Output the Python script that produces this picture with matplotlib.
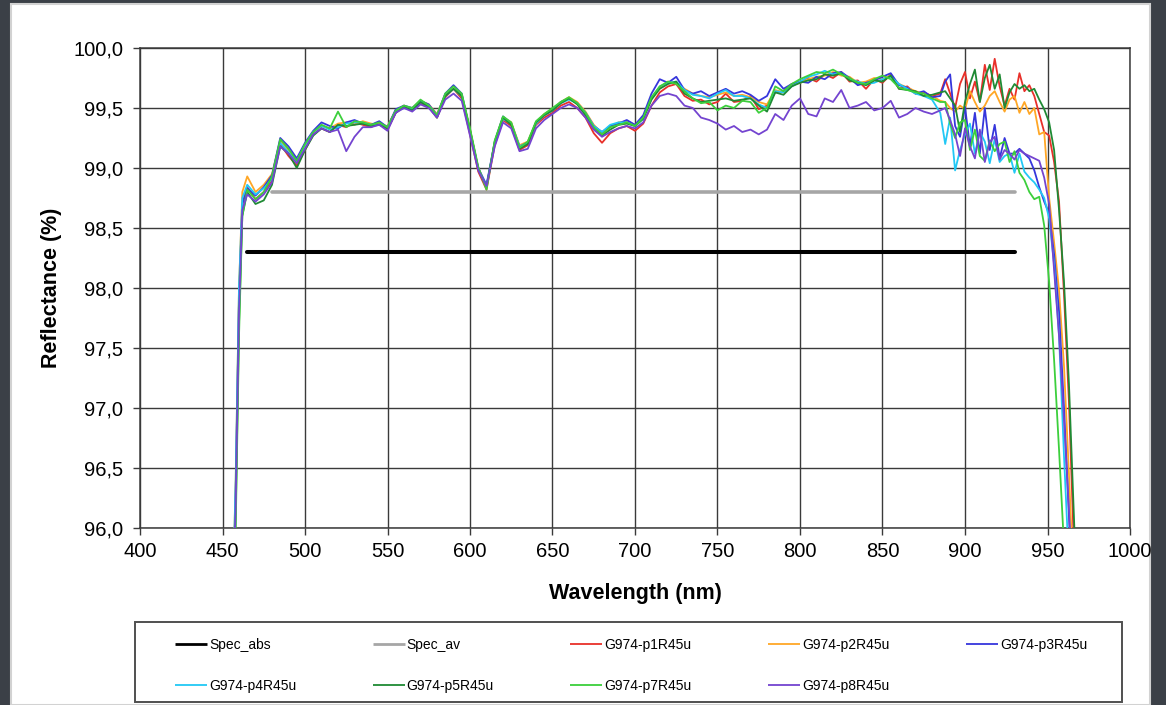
import numpy as np
import matplotlib
matplotlib.use("Agg")
import matplotlib.pyplot as plt
from matplotlib.patches import Rectangle
from matplotlib.ticker import FuncFormatter, MultipleLocator

plt.rcParams['font.family'] = ['Liberation Sans', 'DejaVu Sans']

# Sample wavelengths (nm): fine steps on the rising edge, 5 nm in the band, 3 nm in the noisy tail
wavelength = np.concatenate([[456, 458, 460, 462],
                             np.arange(465, 886, 5),
                             np.arange(888, 970, 3)])

# Specification limits
spec_abs_wl = [465, 930]
spec_abs_val = [98.3, 98.3]
spec_av_wl = [480, 930]
spec_av_val = [98.8, 98.8]

# Measured reflectance (%) per sample
p1 = [95.2, 96.3, 97.9, 98.7,
      98.84, 98.74, 98.80, 98.90, 99.20, 99.10, 99.02, 99.15, 99.28, 99.33,
      99.30, 99.36, 99.34, 99.38, 99.36, 99.34, 99.38, 99.32, 99.46, 99.52,
      99.48, 99.54, 99.51, 99.42, 99.59, 99.66, 99.58, 99.28, 98.97, 98.82,
      99.19, 99.40, 99.35, 99.15, 99.19, 99.36, 99.42, 99.46, 99.52, 99.55,
      99.50, 99.42, 99.29, 99.21, 99.29, 99.33, 99.35, 99.31, 99.37, 99.52,
      99.63, 99.68, 99.70, 99.60, 99.56, 99.57, 99.53, 99.55, 99.62, 99.55,
      99.56, 99.60, 99.49, 99.52, 99.63, 99.64, 99.70, 99.72, 99.75, 99.72,
      99.78, 99.75, 99.80, 99.72, 99.73, 99.66, 99.74, 99.71, 99.78, 99.66,
      99.68, 99.62, 99.63, 99.60, 99.62,
      99.74, 99.62, 99.50, 99.70, 99.80, 99.58, 99.72, 99.55, 99.86, 99.65,
      99.91, 99.68, 99.52, 99.66, 99.57, 99.79, 99.64, 99.69, 99.60, 99.45,
      99.30, 99.27, 99.05, 98.72, 97.95, 97.05, 95.85, 94.70]

p2 = [95.3, 96.4, 98.0, 98.8,
      98.93, 98.80, 98.86, 98.95, 99.23, 99.15, 99.07, 99.18, 99.30, 99.35,
      99.33, 99.37, 99.38, 99.36, 99.39, 99.37, 99.36, 99.35, 99.48, 99.50,
      99.50, 99.56, 99.53, 99.45, 99.61, 99.66, 99.61, 99.32, 99.00, 98.84,
      99.21, 99.42, 99.38, 99.19, 99.22, 99.38, 99.45, 99.49, 99.55, 99.59,
      99.55, 99.47, 99.36, 99.29, 99.34, 99.38, 99.39, 99.36, 99.42, 99.58,
      99.67, 99.72, 99.71, 99.66, 99.62, 99.60, 99.59, 99.61, 99.63, 99.60,
      99.61, 99.59, 99.55, 99.53, 99.65, 99.63, 99.69, 99.71, 99.74, 99.76,
      99.77, 99.80, 99.77, 99.76, 99.71, 99.72, 99.75, 99.74, 99.77, 99.70,
      99.67, 99.64, 99.62, 99.60, 99.56,
      99.55, 99.50, 99.47, 99.52, 99.49, 99.64, 99.55, 99.47, 99.52, 99.60,
      99.64, 99.55, 99.47, 99.57, 99.60, 99.46, 99.55, 99.45, 99.50, 99.28,
      99.30, 98.75, 98.38, 97.98, 97.35, 96.45, 95.50, 94.50]

p3 = [95.2, 96.3, 97.9, 98.7,
      98.83, 98.77, 98.84, 98.94, 99.25, 99.18, 99.08, 99.21, 99.31, 99.38,
      99.35, 99.33, 99.38, 99.40, 99.37, 99.36, 99.39, 99.34, 99.49, 99.52,
      99.50, 99.56, 99.53, 99.44, 99.62, 99.69, 99.62, 99.31, 99.00, 98.86,
      99.22, 99.43, 99.37, 99.18, 99.21, 99.38, 99.44, 99.48, 99.55, 99.58,
      99.54, 99.46, 99.35, 99.30, 99.35, 99.37, 99.40, 99.36, 99.44, 99.62,
      99.74, 99.71, 99.76, 99.65, 99.62, 99.64, 99.60, 99.63, 99.66, 99.62,
      99.64, 99.61, 99.56, 99.60, 99.74, 99.66, 99.70, 99.72, 99.71, 99.76,
      99.74, 99.79, 99.80, 99.75, 99.69, 99.71, 99.73, 99.76, 99.79, 99.69,
      99.67, 99.62, 99.64, 99.59, 99.60,
      99.72, 99.78, 99.35, 99.26, 99.51, 99.18, 99.46, 99.12, 99.50, 99.15,
      99.36, 99.08, 99.25, 99.12, 99.12, 99.16, 99.12, 99.08, 98.98, 98.84,
      98.72, 98.62, 98.28, 97.80, 97.00, 96.10, 95.20, 94.30]

p4 = [95.3, 96.4, 98.0, 98.75,
      98.86, 98.78, 98.83, 98.91, 99.21, 99.13, 99.06, 99.19, 99.30, 99.35,
      99.32, 99.34, 99.37, 99.38, 99.38, 99.36, 99.36, 99.34, 99.47, 99.50,
      99.49, 99.55, 99.52, 99.44, 99.60, 99.66, 99.60, 99.30, 98.99, 98.85,
      99.20, 99.41, 99.37, 99.18, 99.21, 99.37, 99.44, 99.48, 99.54, 99.57,
      99.54, 99.46, 99.35, 99.30, 99.36, 99.38, 99.38, 99.35, 99.41, 99.58,
      99.68, 99.71, 99.72, 99.65, 99.61, 99.60, 99.58, 99.62, 99.65, 99.60,
      99.60, 99.58, 99.53, 99.50, 99.64, 99.63, 99.68, 99.72, 99.76, 99.78,
      99.81, 99.78, 99.79, 99.74, 99.72, 99.70, 99.71, 99.74, 99.76, 99.70,
      99.66, 99.62, 99.60, 99.57, 99.46,
      99.20, 99.42, 98.98, 99.15, 99.28, 99.37, 99.12, 99.30, 99.22, 99.04,
      99.24, 99.05, 99.10, 99.12, 98.96, 99.12, 98.97, 98.92, 98.88, 98.82,
      98.75, 98.58, 98.20, 97.60, 96.60, 95.70, 94.80, 94.00]

p5 = [95.0, 96.1, 97.7, 98.6,
      98.80, 98.70, 98.73, 98.86, 99.18, 99.12, 99.00, 99.15, 99.27, 99.33,
      99.30, 99.36, 99.35, 99.36, 99.37, 99.35, 99.36, 99.33, 99.46, 99.51,
      99.48, 99.55, 99.51, 99.42, 99.60, 99.66, 99.60, 99.32, 98.99, 98.84,
      99.22, 99.42, 99.36, 99.16, 99.20, 99.38, 99.44, 99.48, 99.54, 99.58,
      99.53, 99.44, 99.33, 99.27, 99.32, 99.36, 99.37, 99.35, 99.41, 99.57,
      99.66, 99.70, 99.72, 99.62, 99.58, 99.55, 99.56, 99.57, 99.58, 99.56,
      99.57, 99.58, 99.52, 99.47, 99.63, 99.61, 99.68, 99.71, 99.73, 99.74,
      99.78, 99.77, 99.79, 99.73, 99.71, 99.69, 99.73, 99.72, 99.77, 99.66,
      99.65, 99.64, 99.60, 99.61, 99.63,
      99.64, 99.58, 99.52, 99.30, 99.55, 99.70, 99.82, 99.55, 99.75, 99.86,
      99.66, 99.78, 99.50, 99.63, 99.70, 99.66, 99.69, 99.64, 99.66, 99.57,
      99.49, 99.38, 99.15, 98.65, 98.05, 97.20, 96.10, 95.00]

p7 = [94.9, 96.0, 97.6, 98.6,
      98.82, 98.74, 98.80, 98.93, 99.24, 99.16, 99.06, 99.20, 99.30, 99.36,
      99.33, 99.47, 99.34, 99.39, 99.38, 99.36, 99.38, 99.34, 99.48, 99.52,
      99.50, 99.57, 99.52, 99.44, 99.62, 99.68, 99.62, 99.33, 99.01, 98.82,
      99.23, 99.43, 99.38, 99.17, 99.22, 99.39, 99.45, 99.50, 99.55, 99.59,
      99.54, 99.46, 99.34, 99.28, 99.34, 99.36, 99.38, 99.35, 99.42, 99.59,
      99.68, 99.72, 99.70, 99.64, 99.58, 99.54, 99.55, 99.48, 99.52, 99.50,
      99.56, 99.55, 99.46, 99.50, 99.68, 99.64, 99.70, 99.74, 99.77, 99.80,
      99.79, 99.82, 99.78, 99.75, 99.71, 99.70, 99.74, 99.77, 99.74, 99.67,
      99.65, 99.63, 99.62, 99.58, 99.55,
      99.55, 99.37, 99.25, 99.38, 99.40, 99.15, 99.32, 99.10, 99.06, 99.23,
      99.14, 99.20, 99.22, 99.05, 99.14, 98.96, 98.90, 98.80, 98.74, 98.76,
      98.52, 98.05, 97.40, 96.65, 95.85, 95.10, 94.40, 93.70]

p8 = [95.1, 96.2, 97.8, 98.65,
      98.78, 98.72, 98.78, 98.88, 99.18, 99.12, 99.04, 99.16, 99.28, 99.33,
      99.30, 99.32, 99.14, 99.26, 99.34, 99.34, 99.36, 99.31, 99.46, 99.50,
      99.47, 99.53, 99.50, 99.42, 99.57, 99.62, 99.56, 99.27, 98.98, 98.85,
      99.18, 99.38, 99.33, 99.14, 99.16, 99.33, 99.40, 99.45, 99.50, 99.53,
      99.50, 99.42, 99.32, 99.26, 99.30, 99.33, 99.35, 99.33, 99.38, 99.52,
      99.60, 99.62, 99.60, 99.52, 99.50, 99.42, 99.40, 99.37, 99.32, 99.35,
      99.30, 99.32, 99.28, 99.32, 99.45, 99.40, 99.52, 99.58, 99.45, 99.43,
      99.58, 99.55, 99.65, 99.50, 99.52, 99.55, 99.48, 99.50, 99.56, 99.42,
      99.45, 99.50, 99.47, 99.45, 99.48,
      99.50, 99.40, 99.28, 99.10, 99.33, 99.18, 99.08, 99.32, 99.05, 99.22,
      99.26, 99.07, 99.15, 99.12, 99.07, 99.15, 99.12, 99.10, 99.08, 99.06,
      98.92, 98.70, 98.15, 97.60, 96.90, 96.15, 95.35, 94.60]

series = [
    ("G974-p1R45u", p1, "#e8302a"),
    ("G974-p2R45u", p2, "#ffa726"),
    ("G974-p3R45u", p3, "#3636dc"),
    ("G974-p4R45u", p4, "#22c8f5"),
    ("G974-p5R45u", p5, "#1f8a34"),
    ("G974-p7R45u", p7, "#3ccf3c"),
    ("G974-p8R45u", p8, "#7444d0"),
]

W, H = 1166, 705
fig = plt.figure(figsize=(W / 100, H / 100), dpi=100, facecolor="#3b4047")

# white page with a light edge
fig.patches.append(Rectangle((11 / W, 0), 1139 / W, 701 / H, transform=fig.transFigure,
                             facecolor="white", edgecolor="#d2d2d2", linewidth=1.5, zorder=-2))

ax = fig.add_axes([140 / W, 1 - 528 / H, 990 / W, 480 / H])
ax.set_facecolor("white")

handles = {}
h, = ax.plot(spec_abs_wl, spec_abs_val, color="black", linewidth=2.9,
             solid_capstyle="round", label="Spec_abs", zorder=2)
handles["Spec_abs"] = h
h, = ax.plot(spec_av_wl, spec_av_val, color="#a6a6a6", linewidth=2.6,
             solid_capstyle="round", label="Spec_av", zorder=2)
handles["Spec_av"] = h
for name, vals, col in series:
    h, = ax.plot(wavelength, vals, color=col, linewidth=1.3, label=name, zorder=3)
    handles[name] = h

ax.set_xlim(400, 1000)
ax.set_ylim(96.0, 100.0)
ax.xaxis.set_major_locator(MultipleLocator(50))
ax.yaxis.set_major_locator(MultipleLocator(0.5))
ax.yaxis.set_major_formatter(FuncFormatter(lambda v, _: f"{v:.1f}".replace(".", ",")))

grid_col = "#3a3a3a"
ax.set_axisbelow(True)
ax.grid(True, color=grid_col, linewidth=1.0)
for s in ax.spines.values():
    s.set_color(grid_col)
    s.set_linewidth(1.1)
ax.tick_params(direction="out", length=5, width=1.0, color=grid_col,
               labelsize=14.5, labelcolor="black")
ax.tick_params(axis="y", pad=7)
ax.tick_params(axis="x", pad=5)

ax.set_xlabel("Wavelength (nm)", fontsize=15.5, fontweight="bold", va="center")
ax.xaxis.set_label_coords(0.5, (528 - 594) / 480)
ax.set_ylabel("Reflectance (%)", fontsize=15.5, fontweight="bold", va="center")
ax.yaxis.set_label_coords((52 - 140) / 990, 0.5)

# legend box
fig.patches.append(Rectangle((135 / W, 1 - 702 / H), 987 / W, 80 / H, transform=fig.transFigure,
                             facecolor="white", edgecolor="#505050", linewidth=1.4, zorder=-1))
order = ["Spec_abs", "G974-p4R45u", "Spec_av", "G974-p5R45u", "G974-p1R45u",
         "G974-p7R45u", "G974-p2R45u", "G974-p8R45u", "G974-p3R45u"]
leg = fig.legend([handles[k] for k in order], order, loc="upper left",
                 bbox_to_anchor=(175 / W, 1 - 638 / H), ncol=5, frameon=False,
                 fontsize=10, handlelength=2.3, handletextpad=0.15,
                 columnspacing=5.5, labelspacing=1.95, borderpad=0, borderaxespad=0)
for line, lab in zip(leg.get_lines(), order):
    line.set_linewidth(2.0 if lab.startswith("Spec") else 1.3)
    line.set_solid_capstyle("butt")

fig.savefig("out.png", dpi=100, facecolor=fig.get_facecolor())
